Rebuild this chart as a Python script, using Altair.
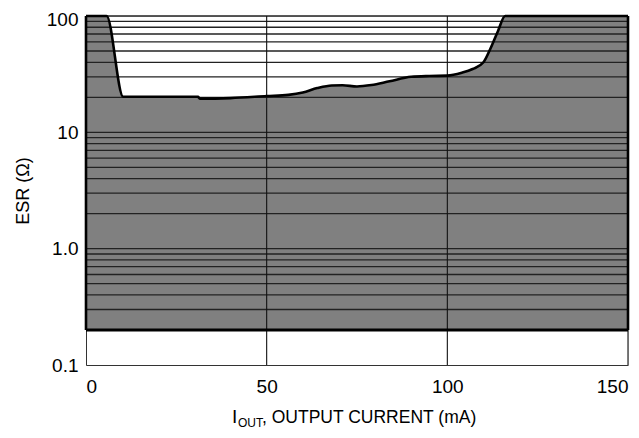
import altair as alt
import pandas as pd

# ---- data ----
current_ma = [0, 5.7, 10.3, 31, 31.5, 40, 50, 56, 60, 64, 68, 71, 75, 79, 84, 90, 95, 100, 104, 107, 110, 112, 114, 116, 150]
esr_ohm = [100, 100, 20.2, 20.2, 19.5, 19.7, 20.5, 21, 22, 24, 25.3, 25.4, 24.8, 25.5, 27.5, 30, 30.5, 30.7, 32.5, 35, 40, 53, 74, 100, 100]
esr_floor = 0.2
esr_top = 100
x_min, x_max = 0, 150
y_min, y_max = 0.1, 100

grid_esr = [0.2, 0.3, 0.4, 0.5, 0.6, 0.7, 0.8, 0.9,
            1, 2, 3, 4, 5, 6, 7, 8, 9,
            10, 20, 30, 40, 50, 60, 70, 80, 90, 100]
vgrid_ma = [50, 100, 150]
x_ticks = [0, 50, 100, 150]
y_ticks = [0.1, 1, 10, 100]
y_tick_labels = ["0.1", "1.0", "10", "100"]

x_title_main = "I"
x_title_sub = "OUT"
x_title_rest = ", OUTPUT CURRENT (mA)"
y_title = "ESR (Ω)"

FONT = "Liberation Sans, Arial, sans-serif"

curve = pd.DataFrame({"i": current_ma, "esr": esr_ohm, "base": [esr_floor] * len(current_ma)})
hgrid = pd.DataFrame({"esr": grid_esr})
vgrid = pd.DataFrame({"i": vgrid_ma})
edges_v = pd.DataFrame({"i": [x_min, x_max], "lo": [esr_floor] * 2, "hi": [esr_top] * 2})
edge_b = pd.DataFrame({"i": [x_min], "i2": [x_max], "esr": [esr_floor]})

# label expression built from the tick lists
parts = []
for k in range(len(y_ticks) - 1):
    parts.append(f"datum.value < {y_ticks[k] * 2} ? '{y_tick_labels[k]}' : ")
label_expr = "".join(parts) + f"'{y_tick_labels[-1]}'"

W, H = 542, 349

xs = alt.Scale(domain=[x_min, x_max], nice=False, zero=False)
ys = alt.Scale(type="log", domain=[y_min, y_max], nice=False)

x_axis = alt.Axis(values=x_ticks, title=None, ticks=False, grid=False, labelFlush=True,
                  labelPadding=12, labelFontSize=19, labelFont=FONT, labelColor="#000",
                  domainColor="#333", domainWidth=1)
y_axis = alt.Axis(values=y_ticks, labelExpr=label_expr, title=y_title, ticks=False, grid=False,
                  labelPadding=8, labelFontSize=19, labelFont=FONT, labelColor="#000",
                  labelFlush=False, domainColor="#333", domainWidth=1,
                  labelOffset={"condition": {"test": f"datum.value >= {y_max * 0.9}", "value": 3}, "value": 0},
                  titleFont=FONT, titleFontSize=18, titleFontWeight="normal", titleColor="#000",
                  titleX=-63, titleY=H / 2, titleAngle=-90, titleBaseline="middle", titleAlign="center")

area = alt.Chart(curve).mark_area(color="#808080", opacity=1, interpolate="monotone").encode(
    x=alt.X("i:Q", scale=xs, axis=x_axis),
    y=alt.Y("esr:Q", scale=ys, axis=y_axis),
    y2="base:Q",
)

hrules = alt.Chart(hgrid).mark_rule(color="#222", strokeWidth=1.3).encode(
    y=alt.Y("esr:Q", scale=ys)
)

vrules = alt.Chart(vgrid).mark_rule(color="#111", strokeWidth=1.1).encode(
    x=alt.X("i:Q", scale=xs)
)

outline = alt.Chart(curve).mark_line(color="#000", strokeWidth=2.6, interpolate="monotone").encode(
    x=alt.X("i:Q", scale=xs),
    y=alt.Y("esr:Q", scale=ys),
)

side_edges = alt.Chart(edges_v).mark_rule(color="#000", strokeWidth=2.6).encode(
    x=alt.X("i:Q", scale=xs),
    y=alt.Y("lo:Q", scale=ys),
    y2="hi:Q",
)

bottom_edge = alt.Chart(edge_b).mark_rule(color="#000", strokeWidth=3).encode(
    x=alt.X("i:Q", scale=xs),
    x2="i2:Q",
    y=alt.Y("esr:Q", scale=ys),
)

# x-axis title with subscript
t_I = alt.Chart(pd.DataFrame({"t": [x_title_main]})).mark_text(
    font=FONT, fontSize=19, align="left", baseline="alphabetic", color="#000"
).encode(text="t:N", x=alt.value(146), y=alt.value(407))
t_sub = alt.Chart(pd.DataFrame({"t": [x_title_sub]})).mark_text(
    font=FONT, fontSize=12, align="left", baseline="alphabetic", color="#000"
).encode(text="t:N", x=alt.value(152), y=alt.value(411))
t_rest = alt.Chart(pd.DataFrame({"t": [x_title_rest]})).mark_text(
    font=FONT, fontSize=17.5, align="left", baseline="alphabetic", color="#000"
).encode(text="t:N", x=alt.value(176), y=alt.value(407))

chart = alt.layer(area, hrules, vrules, outline, side_edges, bottom_edge, t_I, t_sub, t_rest).properties(
    width=W, height=H,
    autosize=alt.AutoSizeParams(type="none"),
    padding={"left": 78, "top": 8, "right": 3, "bottom": 65},
).configure_view(stroke=None).configure(background="white")

chart.save("out.html", embed_options={"renderer": "svg", "actions": False})
